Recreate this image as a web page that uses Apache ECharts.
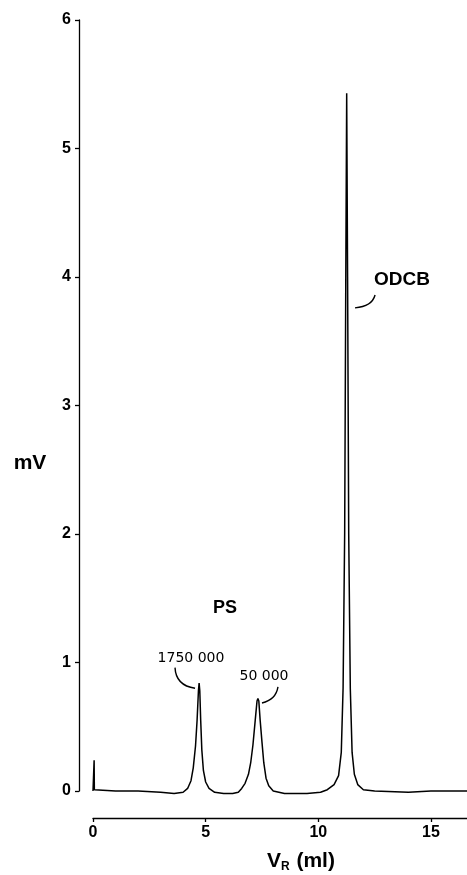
<!DOCTYPE html>
<html>
<head>
<meta charset="utf-8">
<script src="https://cdn.jsdelivr.net/npm/echarts@6/dist/echarts.min.js"></script>
<style>
  html, body { margin: 0; padding: 0; background: #fff; }
  #chart { width: 467px; height: 875px; }
</style>
</head>
<body>
<div id="chart"></div>
<script>
// elution volume (ml) and detector signal (mV)
var volume = [0.0, 0.05, 0.06, 1.0, 2.0, 3.0, 3.6, 4.0, 4.2, 4.35, 4.45, 4.55, 4.62, 4.68, 4.71, 4.74, 4.78, 4.83, 4.9, 5.0, 5.15, 5.4, 5.8, 6.2, 6.45, 6.6, 6.75, 6.9, 7.0, 7.1, 7.2, 7.28, 7.32, 7.36, 7.42, 7.5, 7.58, 7.68, 7.8, 8.0, 8.5, 9.5, 10.1, 10.4, 10.7, 10.9, 11.02, 11.1, 11.17, 11.22, 11.26, 11.3, 11.35, 11.42, 11.5, 11.6, 11.75, 12.0, 12.5, 14.0, 15.0, 16.6];
var signal = [0.0, 0.24, 0.01, 0.0, 0.0, -0.01, -0.02, -0.01, 0.02, 0.08, 0.18, 0.35, 0.55, 0.78, 0.84, 0.78, 0.55, 0.32, 0.16, 0.07, 0.02, -0.01, -0.02, -0.02, -0.01, 0.02, 0.06, 0.13, 0.22, 0.36, 0.55, 0.70, 0.72, 0.70, 0.55, 0.38, 0.22, 0.10, 0.04, 0.0, -0.02, -0.02, -0.01, 0.01, 0.05, 0.12, 0.30, 0.80, 2.0, 4.0, 5.43, 4.0, 2.0, 0.80, 0.30, 0.13, 0.05, 0.01, 0.0, -0.01, 0.0, 0.0];

var xTicks = [0, 5, 10, 15];
var yTicks = [0, 1, 2, 3, 4, 5, 6];

// annotation texts, placed in data coordinates
var labelTexts = ['PS', '1750 000', '50 000', 'ODCB'];
var labelPos = [[5.86, 1.42], [4.35, 1.035], [7.59, 0.89], [13.71, 3.98]];
// leader curves: start, control, end (data coordinates)
var leaders = [
  [[3.64, 0.96], [3.68, 0.82], [4.53, 0.80]],
  [[8.21, 0.81], [8.12, 0.71], [7.50, 0.685]],
  [[12.52, 3.86], [12.38, 3.77], [11.63, 3.76]]
];

var points = volume.map(function (v, i) { return [v, signal[i]]; });

var myChart = echarts.init(document.getElementById('chart'));
var boldFont = 'Liberation Sans, Arial, sans-serif';

var option = {
  animation: false,
  grid: { left: 93, right: 0, top: 20, bottom: 84 },
  xAxis: {
    type: 'value',
    min: 0,
    max: 16.6,
    interval: 5,
    offset: 27,
    axisLine: { show: true, onZero: false, lineStyle: { color: '#000', width: 1.3 } },
    axisTick: { show: true, length: 4, lineStyle: { color: '#000', width: 1.3 } },
    axisLabel: {
      color: '#000', fontSize: 16, fontWeight: 'bold', fontFamily: boldFont, margin: 7,
      showMaxLabel: false,
      formatter: function (v) { return xTicks.indexOf(v) >= 0 ? String(v) : ''; }
    },
    splitLine: { show: false }
  },
  yAxis: {
    type: 'value',
    min: 0,
    max: 6,
    interval: 1,
    offset: 14,
    axisLine: { show: true, onZero: false, lineStyle: { color: '#000', width: 1.3 } },
    axisTick: { show: true, length: 4, lineStyle: { color: '#000', width: 1.3 } },
    axisLabel: {
      color: '#000', fontSize: 16, fontWeight: 'bold', fontFamily: boldFont, margin: 8,
      formatter: function (v) { return yTicks.indexOf(v) >= 0 ? String(v) : ''; }
    },
    splitLine: { show: false }
  },
  series: [{
    type: 'line',
    data: points,
    showSymbol: false,
    clip: false,
    lineStyle: { color: '#000', width: 1.5 }
  }]
};
myChart.setOption(option);

// annotations and axis titles
var gfx = [];
labelTexts.forEach(function (t, i) {
  var p = myChart.convertToPixel({ gridIndex: 0 }, labelPos[i]);
  var isNum = /\d/.test(t);
  gfx.push({
    type: 'text',
    x: p[0], y: p[1],
    style: {
      text: t,
      fill: '#000',
      font: isNum ? '14px DejaVu Sans, sans-serif' : 'bold ' + (t === 'PS' ? 18 : 19) + 'px ' + boldFont,
      letterSpacing: isNum ? 1 : 2,
      align: 'center',
      verticalAlign: 'middle'
    }
  });
});
leaders.forEach(function (c) {
  var a = myChart.convertToPixel({ gridIndex: 0 }, c[0]);
  var b = myChart.convertToPixel({ gridIndex: 0 }, c[1]);
  var d = myChart.convertToPixel({ gridIndex: 0 }, c[2]);
  gfx.push({
    type: 'bezierCurve',
    shape: { x1: a[0], y1: a[1], cpx1: b[0], cpy1: b[1], x2: d[0], y2: d[1] },
    style: { stroke: '#000', lineWidth: 1.4, fill: null }
  });
});
// axis titles
gfx.push({
  type: 'text', x: 30, y: 463,
  style: { text: 'mV', fill: '#000', font: 'bold 21px ' + boldFont, align: 'center', verticalAlign: 'middle' }
});
gfx.push({
  type: 'text', x: 301, y: 861,
  style: {
    text: '{v|V}{s|R}  {v|(ml)}',
    align: 'center', verticalAlign: 'middle',
    rich: {
      v: { fill: '#000', font: 'bold 21px ' + boldFont },
      s: { fill: '#000', font: 'bold 12px ' + boldFont, padding: [12, 0, 0, 0] }
    }
  }
});
myChart.setOption({ graphic: gfx });
</script>
</body>
</html>
